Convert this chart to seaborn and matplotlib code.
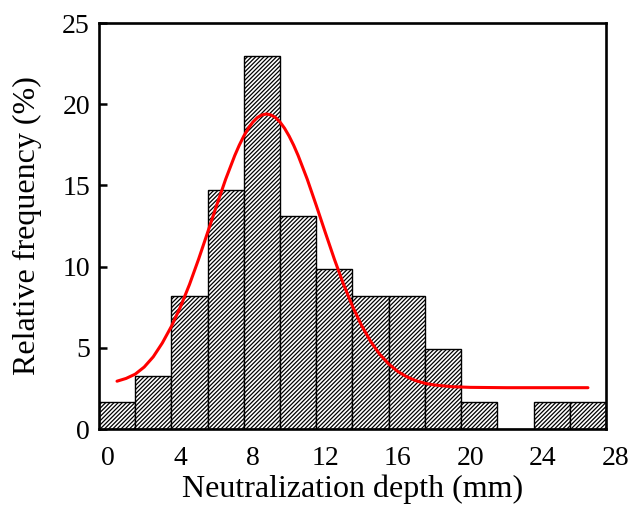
import matplotlib
matplotlib.use("Agg")
import matplotlib.pyplot as plt
import seaborn as sns
import numpy as np
import pandas as pd

# histogram bins (mm) and relative frequency (%)
bin_edges = [-0.5, 1.5, 3.5, 5.5, 7.5, 9.5, 11.5, 13.5, 15.5, 17.5, 19.5, 21.5, 23.5, 25.5, 27.5]
bin_centers = [0.5, 2.5, 4.5, 6.5, 8.5, 10.5, 12.5, 14.5, 16.5, 18.5, 20.5, 22.5, 24.5, 26.5]
rel_freq = [1.64, 3.28, 8.20, 14.75, 22.95, 13.11, 9.84, 8.20, 8.20, 4.92, 1.64, 0.0, 1.64, 1.64]

# fitted curve
fit_x = [0.5, 1.0, 1.5, 2.0, 2.5, 3.0, 3.5, 4.0, 4.5, 5.0, 5.5, 6.0, 6.5, 7.0, 7.25, 7.5,
         7.75, 8.0, 8.25, 8.5, 8.75, 9.0, 9.25, 9.5, 9.75, 10.0, 10.25, 10.5, 11.0,
         11.5, 12.0, 12.5, 13.0, 13.5, 14.0, 14.5, 15.0, 15.5, 16.0, 16.5, 17.0,
         17.5, 18.0, 19.0, 20.0, 22.0, 24.0, 26.5]
fit_y = [2.95, 3.12, 3.38, 3.82, 4.45, 5.30, 6.32, 7.52, 8.90, 10.45, 12.10, 13.77,
         15.39, 16.84, 17.48, 18.04, 18.52, 18.90, 19.18, 19.34, 19.40, 19.34, 19.18,
         18.90, 18.52, 18.04, 17.48, 16.84, 15.39, 13.77, 12.10, 10.46, 8.93, 7.56,
         6.38, 5.40, 4.61, 4.01, 3.55, 3.22, 2.98, 2.82, 2.72, 2.61, 2.57, 2.55,
         2.55, 2.55]

x_ticks = [0, 4, 8, 12, 16, 20, 24]
y_ticks = [0, 5, 10, 15, 20, 25]

sns.set_style("ticks")
plt.rcParams['font.family'] = ['Liberation Serif', 'DejaVu Serif']
plt.rcParams['hatch.linewidth'] = 0.9
for k in ['text.color', 'axes.labelcolor', 'xtick.color', 'ytick.color']:
    plt.rcParams[k] = 'black'

df = pd.DataFrame({'depth': bin_centers, 'freq': rel_freq})

fig = plt.figure(figsize=(6.3, 5.17), dpi=100)
ax = fig.add_axes([0.157, 0.170, 0.805, 0.7855])

sns.histplot(data=df, x='depth', weights='freq', bins=bin_edges, ax=ax,
             stat='count', color='white', edgecolor='black', linewidth=1.0,
             hatch='////////', alpha=1.0)

sns.lineplot(x=fit_x, y=fit_y, color='red', linewidth=2.2, ax=ax)

ax.set_xlim(-0.5, 27.5)
ax.set_ylim(0, 25)
ax.set_xticks(x_ticks)
ax.set_yticks(y_ticks)
ax.tick_params(axis='y', direction='in', length=6, width=1.8, labelsize=20, pad=6.5)
ax.tick_params(axis='x', direction='in', length=0, labelsize=20, pad=12)
# last x tick label sits just outside the frame
ax.annotate('28', xy=(28, 0), xycoords=('data', 'axes fraction'),
            xytext=(0, -12), textcoords='offset points',
            ha='center', va='top', fontsize=20, annotation_clip=False)

for s in ax.spines.values():
    s.set_linewidth(1.9)
    s.set_color('black')

ax.set_xlabel('Neutralization depth (mm)', fontsize=23, labelpad=3)
ax.set_ylabel('Relative frequency (%)', fontsize=23)
ax.yaxis.set_label_coords(-0.112, 0.5)

fig.savefig('out.png', dpi=100)
